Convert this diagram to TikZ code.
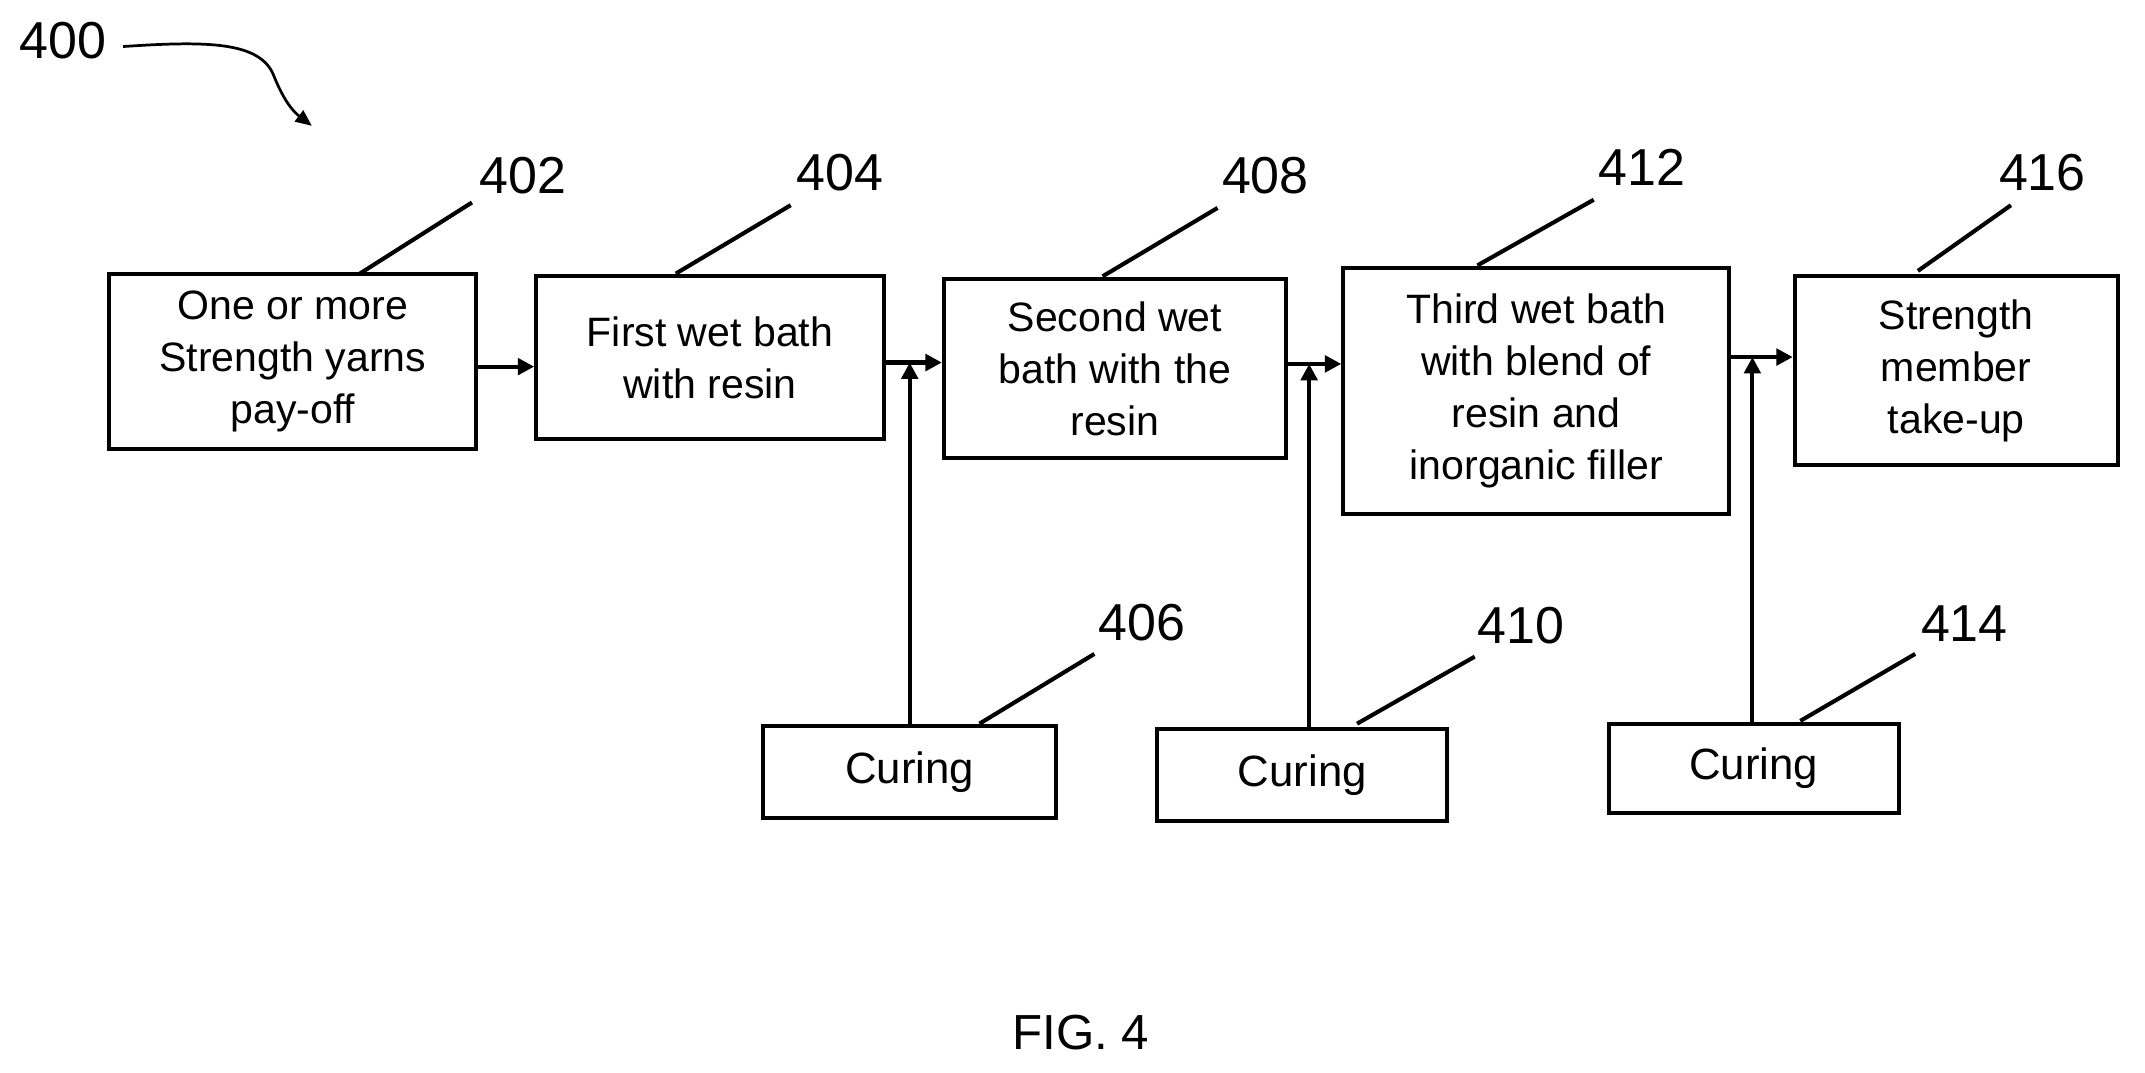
\documentclass[tikz,border=0pt]{standalone}
\usepackage{fontspec}
\setmainfont{Liberation Sans}
\usetikzlibrary{arrows.meta}
\begin{document}
\begin{tikzpicture}[x=0.5pt,y=-0.5pt,
  box/.style={draw,line width=1.5pt,inner sep=0pt,font=\fontsize{15}{19}\selectfont,align=center},
  lab/.style={font=\fontsize{19}{22}\selectfont,inner sep=0pt},
  lead/.style={line width=1.5pt},
  arr/.style={line width=1.5pt,-{Triangle[length=6pt,width=6pt]}}]
\useasboundingbox (0,0) rectangle (1568,784);
\newcommand\bx[6]{\node[box,minimum width=#4*0.5pt-#2*0.5pt,minimum height=#5*0.5pt-#3*0.5pt] (#1) at ({(#2+#4)/2},{(#3+#5)/2}) {#6};}
\bx{b402}{80}{200}{348}{328}{One or more\\Strength yarns\\pay-off}
\bx{b404}{392}{202}{646}{321}{First wet bath\\with resin}
\bx{b408}{690}{204}{940}{335}{Second wet\\bath with the\\resin}
\bx{b412}{982}{196}{1264}{376}{Third wet bath\\with blend of\\resin and\\inorganic filler}
\bx{b416}{1312}{202}{1548}{340}{Strength\\member\\take-up}
\tikzset{box/.append style={font=\fontsize{16}{19}\selectfont}}
\bx{c406}{558}{531}{772}{598}{Curing}
\bx{c410}{846}{533}{1058}{600}{Curing}
\bx{c414}{1176}{529}{1388}{594}{Curing}
\coordinate (j1) at (665,265); \coordinate (j2) at (957,266); \coordinate (j3) at (1281,261);
\draw[arr] (b402.east|-0,268) -- (b404.west|-0,268);
\draw[arr] (b404.east|-j1) -- (b408.west|-j1);
\draw[arr] (b408.east|-j2) -- (b412.west|-j2);
\draw[arr] (b412.east|-j3) -- (b416.west|-j3);
\draw[arr] (c406.north-|j1) -- (j1);
\draw[arr] (c410.north-|j2) -- (j2);
\draw[arr] (c414.north-|j3) -- (j3);
\node[lab] (l402) at (382,128) {402}; \draw[lead] (263,200) -- (345,148);
\node[lab] (l404) at (614,126) {404}; \draw[lead] (494,200) -- (578,150);
\node[lab] (l408) at (925,128) {408}; \draw[lead] (806,202) -- (890,152);
\node[lab] (l412) at (1200,122) {412}; \draw[lead] (1080,194) -- (1165,146);
\node[lab] (l416) at (1493,126) {416}; \draw[lead] (1402,198) -- (1470,150);
\node[lab] (l406) at (835,455) {406}; \draw[lead] (716,529) -- (800,478);
\node[lab] (l410) at (1112,457) {410}; \draw[lead] (992,529) -- (1078,480);
\node[lab] (l414) at (1436,456) {414}; \draw[lead] (1316,527) -- (1400,478);
\node[lab] (l400) at (46,30) {400};
\draw[line width=1pt,-{Triangle[length=6pt,width=5pt]}] (90,34) .. controls (150,30) and (190,30) .. (200,55) .. controls (208,75) and (215,82) .. (228,92);
\node[lab,font=\fontsize{18}{22}\selectfont] (fig) at (790,755) {FIG. 4};
\end{tikzpicture}
\end{document}
